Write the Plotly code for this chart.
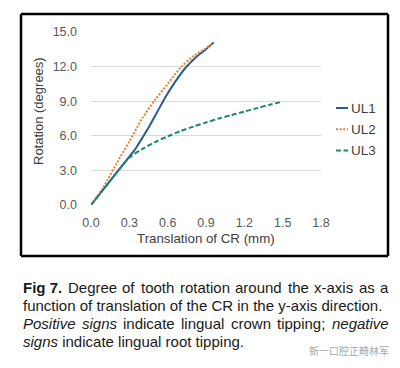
import plotly.graph_objects as go

# ---------------- data ----------------
series_names = ["UL1", "UL2", "UL3"]
x_ul1 = [0, 0.1, 0.2, 0.3, 0.35, 0.4, 0.46, 0.52, 0.59, 0.66, 0.74, 0.83, 0.9, 0.96]
y_ul1 = [0, 1.4, 2.8, 4.2, 4.9, 5.8, 6.9, 8.1, 9.5, 10.7, 11.9, 12.9, 13.5, 14.1]
x_ul2 = [0, 0.1, 0.2, 0.3, 0.4, 0.5, 0.6, 0.7, 0.8, 0.9, 0.95]
y_ul2 = [0, 1.6, 3.6, 5.5, 7.5, 9.1, 10.5, 11.9, 12.9, 13.6, 14.0]
x_ul3 = [0, 0.1, 0.2, 0.3, 0.4, 0.5, 0.6, 0.7, 0.8, 0.9, 1.0, 1.1, 1.2, 1.3, 1.4, 1.49]
y_ul3 = [0, 1.4, 2.8, 4.1, 4.85, 5.45, 5.95, 6.4, 6.8, 7.15, 7.5, 7.8, 8.1, 8.4, 8.7, 8.95]
x_ticks = [0.0, 0.3, 0.6, 0.9, 1.2, 1.5, 1.8]
y_ticks = [0.0, 3.0, 6.0, 9.0, 12.0, 15.0]
x_title = "Translation of CR (mm)"
y_title = "Rotation (degrees)"
caption_line1 = ["<b>Fig 7.</b>", "Degree", "of", "tooth", "rotation", "around", "the", "x-axis", "as", "a"]
caption_line2 = "function of translation of the CR in the y-axis direction."
caption_line3 = ["<i>Positive</i>", "<i>signs</i>", "indicate", "lingual", "crown", "tipping;", "<i>negative</i>"]
caption_line4 = "<i>signs</i> indicate lingual root tipping."
watermark = "新一口腔正畸林军"

colors = ["#2B5C8F", "#ED7D31", "#1B8A62"]
dashes = ["solid", "2px,1.6px", "5px,2.5px"]

FONT = "Liberation Sans, Arial, sans-serif"
W, H = 400, 368
# chart frame (becomes the "paper" area)
FL, FR, FT, FB = 21, 388, 14, 256
# plot area in pixels
L, R, T, B = 91, 321, 32, 205


def px(xp):
    return (xp - FL) / (FR - FL)


def py(yp):
    return (FB - yp) / (FB - FT)


fig = go.Figure()
for name, xs, ys, c, d in zip(series_names, [x_ul1, x_ul2, x_ul3], [y_ul1, y_ul2, y_ul3], colors, dashes):
    fig.add_trace(go.Scatter(x=xs, y=ys, mode="lines", name=name,
                             line=dict(color=c, width=2, dash=d, shape="spline", smoothing=0.8),
                             showlegend=False))

fig.update_layout(
    template="none",
    width=W, height=H, autosize=False,
    margin=dict(l=FL, r=W - FR, t=FT, b=H - FB, pad=0, autoexpand=False),
    paper_bgcolor="white", plot_bgcolor="rgba(0,0,0,0)",
    font=dict(family=FONT, size=12.5, color="#595959"),
    xaxis=dict(domain=[px(L), px(R)], range=[0, 1.8], tickvals=x_ticks,
               ticktext=[f"{v:.1f}" for v in x_ticks], automargin=False,
               showgrid=False, zeroline=False, showline=False, ticks="",
               ticklabelstandoff=8, tickfont=dict(size=12.5, color="#595959")),
    yaxis=dict(domain=[py(B), py(T)], range=[0, 15], tickvals=y_ticks,
               ticktext=[f"{v:.1f}" for v in y_ticks], automargin=False,
               showgrid=True, gridcolor="#D9D9D9", gridwidth=1, zeroline=False,
               showline=False, ticks="", ticklabelstandoff=13,
               tickfont=dict(size=12.5, color="#595959")),
)

ann = []
shapes = []
# chart frame: four edges of the chart box
for (x0, y0, x1, y1) in [(0, 0, 1, 0), (1, 0, 1, 1), (1, 1, 0, 1), (0, 1, 0, 0)]:
    shapes.append(dict(type="line", xref="paper", yref="paper", x0=x0, y0=y0, x1=x1, y1=y1,
                       line=dict(color="#000000", width=2.5, dash="solid")))
# axis titles
ann.append(dict(text=x_title, x=px(206), y=py(238), xref="paper", yref="paper",
                showarrow=False, xanchor="center", yanchor="middle",
                font=dict(size=13.3, color="#404040", family=FONT)))
ann.append(dict(text=y_title, x=px(38), y=py(111), xref="paper", yref="paper",
                showarrow=False, xanchor="center", yanchor="middle", textangle=-90,
                font=dict(size=13, color="#404040", family=FONT)))

# legend (manual, short sample lines like the original)
leg_y = [108, 129.3, 150.6]
for name, c, d, yy in zip(series_names, colors, dashes, leg_y):
    shapes.append(dict(type="line", xref="paper", yref="paper",
                       x0=px(336), x1=px(348), y0=py(yy), y1=py(yy),
                       line=dict(color=c, width=2, dash=d)))
    ann.append(dict(text=name, x=px(348.5), y=py(yy), xref="paper", yref="paper",
                    showarrow=False, xanchor="left", yanchor="middle",
                    font=dict(size=13.5, color="#404040", family=FONT)))

# ---- caption (justified lines laid out word by word) ----
AW = {' ': 278, 'a': 556, 'b': 556, 'c': 500, 'd': 556, 'e': 556, 'f': 278, 'g': 556, 'h': 556,
      'i': 222, 'j': 222, 'k': 500, 'l': 222, 'm': 833, 'n': 556, 'o': 556, 'p': 556, 'q': 556,
      'r': 333, 's': 500, 't': 278, 'u': 556, 'v': 500, 'w': 722, 'x': 500, 'y': 500, 'z': 500,
      'C': 722, 'D': 722, 'F': 611, 'P': 667, 'R': 722, '7': 556, '.': 278, ';': 278, '-': 333}
AWB = {'F': 611, 'i': 278, 'g': 611, ' ': 278, '7': 556, '.': 278}
CAP_SIZE = 15
CAP_COLOR = "#1a1a1a"
CAP_L, CAP_R = 20.7, 386.7


def word_width(w):
    bold = w.startswith("<b>")
    plain = w.replace("<b>", "").replace("</b>", "").replace("<i>", "").replace("</i>", "")
    tbl = AWB if bold else AW
    return sum(tbl.get(ch, 556) for ch in plain) * CAP_SIZE / 1000.0


def add_text(text, xpix, ypix, size=CAP_SIZE, color=CAP_COLOR, family=FONT):
    ann.append(dict(text=text, x=px(xpix), y=py(ypix), xref="paper", yref="paper",
                    showarrow=False, xanchor="left", yanchor="middle",
                    font=dict(size=size, color=color, family=family)))


def justified(words, yline):
    widths = [word_width(w) for w in words]
    gap = (CAP_R - CAP_L - sum(widths)) / (len(words) - 1)
    xcur = CAP_L
    for w, wd in zip(words, widths):
        add_text(w, xcur, yline)
        xcur += wd + gap


justified(caption_line1, 287.5)
add_text(caption_line2, CAP_L, 305.5)
justified(caption_line3, 323.5)
add_text(caption_line4, CAP_L, 341.5)
add_text(watermark, 307, 350, size=10, color="#A8A8A8", family="Noto Sans CJK SC")

fig.update_layout(annotations=ann, shapes=shapes)
fig.write_html("out.html", config={"displayModeBar": False},
               post_script="document.body.style.margin='0';document.body.style.padding='0';")
